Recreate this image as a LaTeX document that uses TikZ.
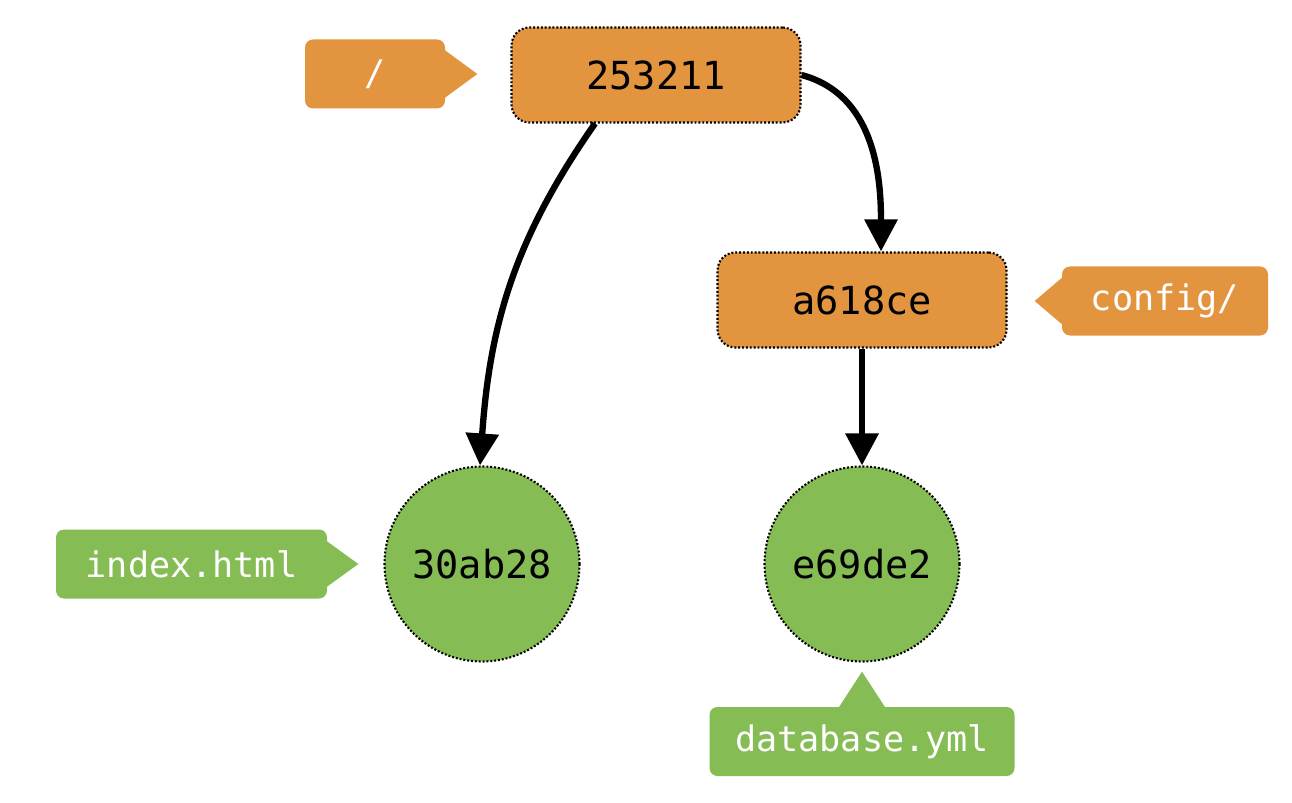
\documentclass[tikz,border=0pt]{standalone}
\usepackage{fontspec}
\setmonofont{DejaVu Sans Mono}
\usetikzlibrary{positioning, shapes, arrows.meta}
\definecolor{treeorange}{HTML}{E3943F}
\definecolor{blobgreen}{HTML}{86BC54}

\begin{document}
\begin{tikzpicture}[
        hash/.style={
            draw=black, line width=1.2pt,
            dash pattern=on 1.1pt off 1.1pt, % fine dotted outline
            font=\ttfamily\fontsize{22}{26}\selectfont,
            inner sep=0pt
        },
        treebox/.style={hash, fill=treeorange, rounded corners=0.36cm,
            minimum width=5.78cm, minimum height=1.9cm},
        blob/.style={hash, circle, fill=blobgreen, minimum size=3.9cm},
        tag/.style={rounded corners=0.16cm, text=white, inner sep=0pt,
            font=\ttfamily\fontsize{20}{24}\selectfont, minimum height=1.38cm},
        link/.style={line width=3.6pt, -{Triangle[length=0.64cm, width=0.64cm]}}
      ]
        \useasboundingbox (0,0) rectangle (25.84,16.04);
        % trees and blobs
        \node[treebox] (root) at (13.12,14.54) {253211};
        \node[treebox] (config) at (17.24,10.04) {a618ce};
        \node[blob] (index) at (9.64,4.76) {30ab28};
        \node[blob] (database) at (17.24,4.76) {e69de2};
        % names
        \node[tag, fill=treeorange, minimum width=2.8cm] (root_name) at (7.5,14.56) {/};
        \node[tag, fill=treeorange, minimum width=4.12cm] (config_name) at (23.3,10.02) {config/};
        \node[tag, fill=blobgreen, minimum width=5.42cm] (index_name) at (3.83,4.76) {index.html};
        \node[tag, fill=blobgreen, minimum width=6.1cm] (database_name) at (17.24,1.21) {database.yml};
        \coordinate[right=0.64cm of root_name] (root_tip);
        \coordinate[left=0.54cm of config_name] (config_tip);
        \coordinate[right=0.62cm of index_name] (index_tip);
        \coordinate[above=0.7cm of database_name] (database_tip);
        \fill[treeorange] ([xshift=-2pt, yshift=0.52cm]root_name.east) -- (root_tip) -- ([xshift=-2pt, yshift=-0.52cm]root_name.east) -- cycle;
        \fill[treeorange] ([xshift=2pt, yshift=0.52cm]config_name.west) -- (config_tip) -- ([xshift=2pt, yshift=-0.52cm]config_name.west) -- cycle;
        \fill[blobgreen] ([xshift=-2pt, yshift=0.5cm]index_name.east) -- (index_tip) -- ([xshift=-2pt, yshift=-0.5cm]index_name.east) -- cycle;
        \fill[blobgreen] ([xshift=-0.5cm, yshift=-2pt]database_name.north) -- (database_tip) -- ([xshift=0.5cm, yshift=-2pt]database_name.north) -- cycle;
        % links
        \draw[link] ([xshift=-1.22cm]root.south) to[out=-125, in=86] ([xshift=-0.04cm]index.north);
        \draw[link] (root.east) to[out=-15, in=90] ([xshift=0.38cm]config.north);
        \draw[link] (config) -- (database);
      \end{tikzpicture}
\end{document}
